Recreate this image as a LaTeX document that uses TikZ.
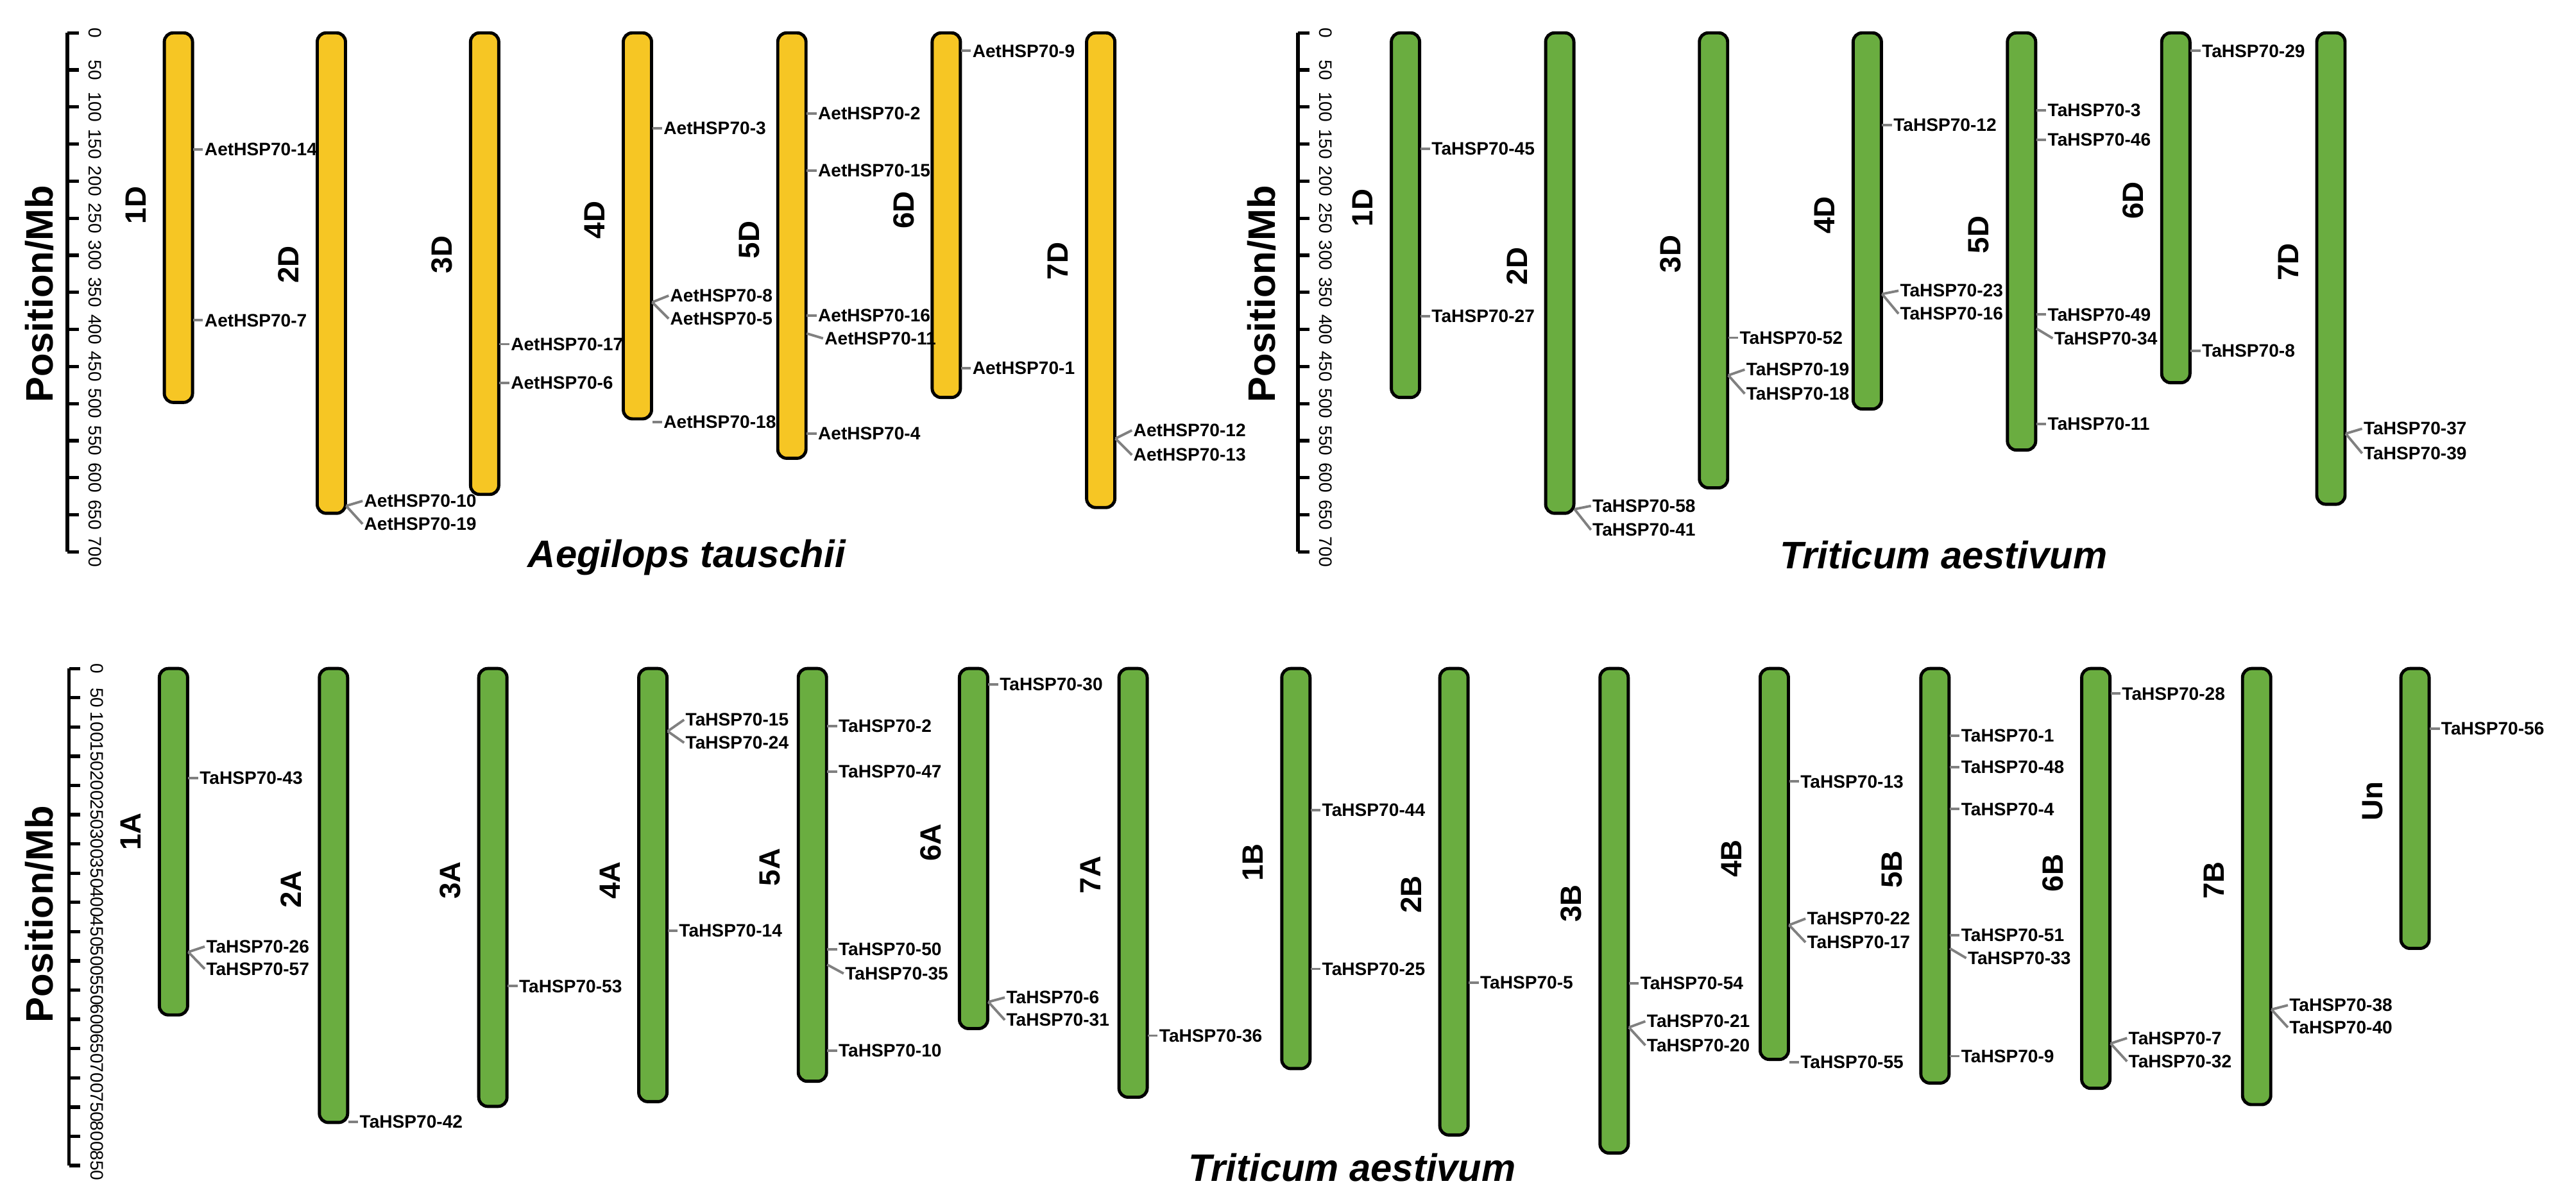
\documentclass[tikz,border=0pt]{standalone}
\usepackage{fontspec}
\setmainfont{Liberation Sans}
\definecolor{ayellow}{HTML}{F6C624}
\definecolor{agreen}{HTML}{6AAD40}
\newcommand\chr[7]{\node[#5,minimum height={(#4-#3)*0.0256cm}] (#1) at (#2,{(#3+#4)/2}) {};
  \node[clab] (#1l) at (#2-26,#7) {#6};}
\newcommand\gs[4]{\coordinate (#4o) at (#1+9,#2);
  \node[gl] (#4) at (#1+15,#2) {#3}; \draw[gline] (#4o) -- (#4.west);}
\newcommand\gp[5]{\coordinate (#5o) at (#1+9,#2);
  \node[gl] (#5) at (#1+19,#3) {#4}; \draw[gline] (#5o) -- (#5.west);}
\newcommand\yaxis[5]{\draw[axl] (#1,#2) -- (#1,{#2+#3*#4});
  \foreach \i in {0,...,#4}{\draw[axl] (#1,{#2+#3*\i}) -- (#1+7,{#2+#3*\i});
    \pgfmathtruncatemacro\v{\i*#5}\node[tick] at (#1+17,{#2+#3*\i}) {\v};}}
\begin{document}
\begin{tikzpicture}[x=0.0256cm,y=-0.0256cm,
 chrom/.style={draw=black,line width=1.4pt,rounded corners=0.14cm,minimum width=0.44cm,inner sep=0pt},
 yel/.style={chrom,fill=ayellow}, grn/.style={chrom,fill=agreen},
 clab/.style={font=\bfseries\fontsize{13}{13}\selectfont,rotate=90,inner sep=0pt},
 gl/.style={font=\bfseries\fontsize{8}{9}\selectfont,inner sep=0.5pt,anchor=west},
 gline/.style={draw=black!50,line width=1.1pt},
 axl/.style={line width=1.5pt},
 tick/.style={font=\fontsize{8}{8}\selectfont,rotate=-90,inner sep=0pt},
 ttl/.style={font=\bfseries\itshape\fontsize{17}{17}\selectfont},
 ylab/.style={font=\bfseries\fontsize{17}{17}\selectfont,rotate=90}]
\useasboundingbox (0,0) rectangle (1568,733);
% axes
\yaxis{41}{20}{22.57}{14}{50}
\yaxis{790}{20}{22.57}{14}{50}
\yaxis{42}{407}{17.8}{17}{50}
\node[ylab] (p1) at (24,179) {Position/Mb};
\node[ylab] (p2) at (768,179) {Position/Mb};
\node[ylab] (p3) at (24,556.7) {Position/Mb};
\node[ttl] (t1) at (418,339.5) {Aegilops tauschii};
\node[ttl] (t2) at (1183,338) {Triticum aestivum};
\node[ttl] (t3) at (823,710.7) {Triticum aestivum};
% Aegilops
\chr{a1}{108.6}{20}{245}{yel}{1D}{125}
\chr{a2}{201.7}{20}{312.5}{yel}{2D}{161}
\chr{a3}{295}{20}{301}{yel}{3D}{155}
\chr{a4}{388}{20}{255}{yel}{4D}{134}
\chr{a5}{482}{20}{279}{yel}{5D}{146}
\chr{a6}{576}{20}{242}{yel}{6D}{128}
\chr{a7}{670}{20}{309}{yel}{7D}{159}
\gs{108.6}{91}{AetHSP70-14}{ae14}
\gs{108.6}{195}{AetHSP70-7}{ae7}
\gp{201.7}{308}{305}{AetHSP70-10}{ae10}
\gp{201.7}{308}{319}{AetHSP70-19}{ae19}
\gs{295}{209.5}{AetHSP70-17}{ae17}
\gs{295}{233}{AetHSP70-6}{ae6}
\gs{388}{78}{AetHSP70-3}{ae3}
\gp{388}{184}{180}{AetHSP70-8}{ae8}
\gp{388}{184}{194}{AetHSP70-5}{ae5}
\gs{388}{257}{AetHSP70-18}{ae18}
\gs{482}{69}{AetHSP70-2}{ae2}
\gs{482}{104}{AetHSP70-15}{ae15}
\gs{482}{192}{AetHSP70-16}{ae16}
\gp{482}{203}{206}{AetHSP70-11}{ae11}
\gs{482}{264}{AetHSP70-4}{ae4}
\gs{576}{31}{AetHSP70-9}{ae9}
\gs{576}{224}{AetHSP70-1}{ae1}
\gp{670}{267}{262}{AetHSP70-12}{ae12}
\gp{670}{267}{277}{AetHSP70-13}{ae13}
% Triticum D
\chr{d1}{855.5}{20}{242}{grn}{1D}{126.6}
\chr{d2}{949.4}{20}{312.5}{grn}{2D}{162}
\chr{d3}{1043}{20}{297}{grn}{3D}{154.6}
\chr{d4}{1136.6}{20}{249}{grn}{4D}{131}
\chr{d5}{1230.5}{20}{274}{grn}{5D}{143}
\chr{d6}{1324.4}{20}{233}{grn}{6D}{122}
\chr{d7}{1418.8}{20}{307}{grn}{7D}{159.5}
\gs{855.5}{90.7}{TaHSP70-45}{d45}
\gs{855.5}{192.6}{TaHSP70-27}{d27}
\gp{949.4}{310}{308}{TaHSP70-58}{d58}
\gp{949.4}{310}{322.6}{TaHSP70-41}{d41}
\gs{1043}{205.6}{TaHSP70-52}{d52}
\gp{1043}{228.5}{225}{TaHSP70-19}{d19}
\gp{1043}{228.5}{239.7}{TaHSP70-18}{d18}
\gs{1136.6}{76}{TaHSP70-12}{d12}
\gp{1136.6}{179}{177}{TaHSP70-23}{d23}
\gp{1136.6}{179}{191}{TaHSP70-16}{d16}
\gs{1230.5}{67}{TaHSP70-3}{d3g}
\gs{1230.5}{85}{TaHSP70-46}{d46}
\gs{1230.5}{191.5}{TaHSP70-49}{d49}
\gp{1230.5}{200}{206}{TaHSP70-34}{d34}
\gs{1230.5}{258}{TaHSP70-11}{d11}
\gs{1324.4}{31}{TaHSP70-29}{d29}
\gs{1324.4}{213.5}{TaHSP70-8}{d8}
\gp{1418.8}{264}{261}{TaHSP70-37}{d37}
\gp{1418.8}{264}{276}{TaHSP70-39}{d39}
% Triticum A/B/Un
\chr{b1A}{105.6}{407}{617.9}{grn}{1A}{506.4}
\chr{b2A}{203}{407}{683.4}{grn}{2A}{541.4}
\chr{b3A}{300}{407}{673.6}{grn}{3A}{536}
\chr{b4A}{397.4}{407}{670.7}{grn}{4A}{536}
\chr{b5A}{494.5}{407}{658.3}{grn}{5A}{528}
\chr{b6A}{592.6}{407}{626.2}{grn}{6A}{513}
\chr{b7A}{689.7}{407}{668}{grn}{7A}{532.6}
\chr{b1B}{788.8}{407}{650.6}{grn}{1B}{525}
\chr{b2B}{885}{407}{691}{grn}{2B}{544.6}
\chr{b3B}{982.5}{407}{702}{grn}{3B}{550}
\chr{b4B}{1080}{407}{645}{grn}{4B}{522.8}
\chr{b5B}{1177.8}{407}{659.4}{grn}{5B}{529.3}
\chr{b6B}{1275.7}{407}{662.6}{grn}{6B}{531.5}
\chr{b7B}{1373.6}{407}{672.5}{grn}{7B}{536}
\chr{bUn}{1470}{407}{577.4}{grn}{Un}{487.9}
\gs{105.6}{473.6}{TaHSP70-43}{b43}
\gp{105.6}{579.6}{576.3}{TaHSP70-26}{b26}
\gp{105.6}{579.6}{589.9}{TaHSP70-57}{b57}
\gs{203}{683}{TaHSP70-42}{b42}
\gs{300}{600.4}{TaHSP70-53}{b53}
\gp{397.4}{445.2}{438.2}{TaHSP70-15}{b15}
\gp{397.4}{445.2}{452.2}{TaHSP70-24}{b24}
\gs{397.4}{566.5}{TaHSP70-14}{b14}
\gs{494.5}{442}{TaHSP70-2}{b2}
\gs{494.5}{469.7}{TaHSP70-47}{b47}
\gs{494.5}{578}{TaHSP70-50}{b50}
\gp{494.5}{587.3}{592.7}{TaHSP70-35}{b35}
\gs{494.5}{639.7}{TaHSP70-10}{b10}
\gs{592.6}{416.8}{TaHSP70-30}{b30}
\gp{592.6}{610}{607.3}{TaHSP70-6}{b6}
\gp{592.6}{610}{621}{TaHSP70-31}{b31}
\gs{689.7}{630.5}{TaHSP70-36}{b36}
\gs{788.8}{493.3}{TaHSP70-44}{b44}
\gs{788.8}{589.9}{TaHSP70-25}{b25}
\gs{885}{598.2}{TaHSP70-5}{b5}
\gs{982.5}{598.8}{TaHSP70-54}{b54}
\gp{982.5}{625.5}{621.8}{TaHSP70-21}{b21}
\gp{982.5}{625.5}{636.4}{TaHSP70-20}{b20}
\gs{1080}{475.8}{TaHSP70-13}{b13}
\gp{1080}{563.2}{559.3}{TaHSP70-22}{b22}
\gp{1080}{563.2}{573.7}{TaHSP70-17}{b17}
\gs{1080}{646.7}{TaHSP70-55}{b55}
\gs{1177.8}{447.9}{TaHSP70-1}{b1}
\gs{1177.8}{467.1}{TaHSP70-48}{b48}
\gs{1177.8}{492.6}{TaHSP70-4}{b4}
\gs{1177.8}{569.3}{TaHSP70-51}{b51}
\gp{1177.8}{577.4}{583.3}{TaHSP70-33}{b33}
\gs{1177.8}{643}{TaHSP70-9}{b9}
\gs{1275.7}{422.3}{TaHSP70-28}{b28}
\gp{1275.7}{635.3}{632}{TaHSP70-7}{b7}
\gp{1275.7}{635.3}{646.2}{TaHSP70-32}{b32}
\gp{1373.6}{614.6}{612}{TaHSP70-38}{b38}
\gp{1373.6}{614.6}{625.5}{TaHSP70-40}{b40}
\gs{1470}{443.7}{TaHSP70-56}{b56}
\end{tikzpicture}
\end{document}
